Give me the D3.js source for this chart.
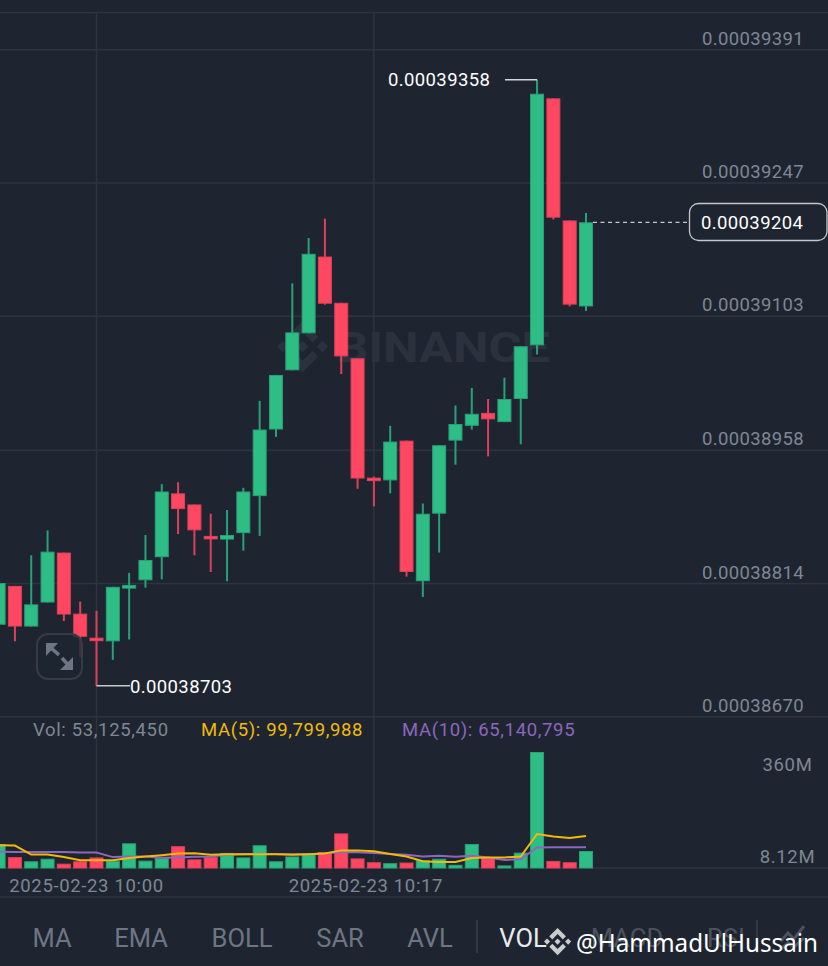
<!DOCTYPE html>
<html><head><meta charset="utf-8">
<script src="https://cdn.jsdelivr.net/npm/d3@7"></script>
<style>html,body{margin:0;padding:0;background:#1e2530;overflow:hidden}svg{display:block;font-family:Roboto,sans-serif}</style>
</head><body><svg id="c" width="828" height="966"></svg>
<script>
// Prices in units of 1e-8. Index 0 = 10:00, one candle per minute.
const candleIndex = d3.range(-6, 31);
const opens  = [38769,38811,38767,38793,38847,38781,38755,38751,38808,38817,38842,38911,38899,38865,38861,38868,38908,38980,39044,39084,39167,39117,39057,38928,38925,38968,38816,38889,38968,38984,38998,38988,39013,39071,39338,39206,39113];
const highs  = [38814,38811,38844,38871,38847,38794,38784,38810,38825,38866,38921,38923,38899,38889,38893,38917,39011,39039,39138,39187,39208,39117,39057,38929,38984,38968,38900,38963,39006,39025,39013,39036,39070,39358,39338,39206,39214];
const lows   = [38769,38751,38767,38793,38773,38734,38703,38731,38753,38809,38818,38867,38844,38826,38816,38849,38865,38972,39044,39084,39115,39040,38916,38897,38911,38821,38799,38847,38942,38980,38951,38988,38964,39061,39207,39113,39108];
const closes = [38814,38767,38791,38848,38780,38756,38752,38810,38812,38839,38913,38894,38871,38862,38866,38913,38980,39039,39085,39170,39116,39059,38927,38925,38967,38826,38889,38963,38986,38997,38991,39013,39070,39343,39209,39115,39204];
// Volumes in millions
const volumes = [75,34,21,29,13.5,21,33,23,77,23,31,68,27,35,47,33,71,21,36,45,50,108,30,18,15,17,24,29,10,75,31,8,48,362,22,18,53];
const ma5  = [71,70,42,42,34,24,24,24,31,36,40,45,46,41,43,43,43,43,41,43,45,55,55,52,44,36,21,19,19,31,33,33,36,106,98,94,100];
const ma10 = [51,50,50,50,50,48,48,34,36,36,32,33,35,36,41,43,44,44,43,43,46,49,49,47,44,41,36,38,35,38,33,25,27,64,65,65,65];
const priceTicks = [39391,39247,39103,38958,38814,38670];
const volumeTicks = [{v:360,t:"360M",dy:12},{v:8.12,t:"8.12M",dy:-8}];
const timeTicks = [{i:0,t:"2025-02-23 10:00"},{i:17,t:"2025-02-23 10:17"}];
const tabs = ["MA","EMA","BOLL","SAR","AVL","VOL","MACD","RSI"];
const tabX = [52,141,242,340,430,523,627,726];
const legendText = ["Vol: 53,125,450","MA(5): 99,799,988","MA(10): 65,140,795"];
const highLabel = 39358, lowLabel = 38703, lastPrice = 39204;

const BG="#1e2530",GRID="#2d343f",UP="#2ebd85",DOWN="#ff4761",GREY="#7f8794",TAB="#6f7683",YEL="#f0b90b",PUR="#8c67bd";
const LOGO="M9.8 13.4 16 7.2l6.2 6.2 3.6-3.6L16 0 6.2 9.8l3.6 3.6zM0 16l3.6-3.6L7.2 16l-3.6 3.6L0 16zm9.8 2.6L16 24.8l6.2-6.2 3.6 3.6L16 32l-9.8-9.8 3.6-3.6zM24.8 16l3.6-3.6L32 16l-3.6 3.6-3.6-3.6zM19.6 16 16 12.4l-3.6 3.6 3.6 3.6 3.6-3.6z";

const svg=d3.select("#c");
const x=d3.scaleLinear().domain([0,30]).range([96.5,586]);
const y=d3.scaleLinear().domain([38670,39391]).range([716.3,49.3]);
const yv=d3.scaleLinear().domain([0,362]).range([868,752]);
const fmt=d=>(d*1e-8).toFixed(8);
const LS="0.65px", LSP="0.38px";
const txt=(t,px,py,size,fill,anchor,ls)=>svg.append("text").attr("x",px).attr("y",py).attr("font-size",size).attr("fill",fill).attr("text-anchor",anchor||"start").attr("dominant-baseline","central").style("letter-spacing",ls||LS).text(t);

// frame / grid
[12.5,868,897].forEach(v=>svg.append("line").attr("x1",0).attr("x2",828).attr("y1",v).attr("y2",v).attr("stroke",GRID).attr("stroke-width",1.5));
timeTicks.forEach(d=>svg.append("line").attr("x1",x(d.i)).attr("x2",x(d.i)).attr("y1",12).attr("y2",868).attr("stroke",GRID).attr("stroke-width",1.5));

// watermark
svg.append("path").attr("d",LOGO).attr("fill","#2b323d").attr("transform","translate(277,321) scale(1.6)");
svg.append("text").attr("x",336).attr("y",362).attr("font-size",42).attr("font-weight",700).attr("fill","#2b323d").attr("textLength",214).attr("lengthAdjust","spacingAndGlyphs").text("BINANCE");

// price axis
const ax=svg.append("g").attr("transform","translate(828,0)").call(d3.axisLeft(y).tickValues(priceTicks).tickSize(828).tickFormat(fmt));
ax.select(".domain").remove();
ax.selectAll("line").attr("stroke",GRID).attr("stroke-width",1.5);
ax.selectAll("text").attr("font-size",18.5).attr("font-family","Roboto").attr("fill",GREY).attr("dy",0).attr("x",-75).attr("y",-11).attr("text-anchor","middle").attr("dominant-baseline","central").style("letter-spacing",LSP);

// candles
const idx=d3.range(candleIndex.length);
const cg=svg.append("g");
const col=i=>closes[i]>=opens[i]?UP:DOWN;
const edge=i=>closes[i]>=opens[i]?"#29a077":"#dc4159";
cg.selectAll("line").data(idx).join("line")
 .attr("x1",i=>x(candleIndex[i])).attr("x2",i=>x(candleIndex[i]))
 .attr("y1",i=>y(highs[i])).attr("y2",i=>y(lows[i]))
 .attr("stroke",edge).attr("stroke-width",2);
cg.selectAll("rect").data(idx).join("rect")
 .attr("x",i=>x(candleIndex[i])-6.5).attr("width",13)
 .attr("y",i=>y(Math.max(opens[i],closes[i]))+.5)
 .attr("height",i=>Math.max(2.5,Math.abs(y(opens[i])-y(closes[i]))-1))
 .attr("fill",col).attr("stroke",edge).attr("stroke-width",1);

// volume
svg.append("g").selectAll("rect").data(idx).join("rect")
 .attr("x",i=>x(candleIndex[i])-6.5).attr("width",13)
 .attr("y",i=>yv(volumes[i])+.5).attr("height",i=>yv(0)-yv(volumes[i])-.5).attr("fill",col).attr("stroke",edge).attr("stroke-width",1);
const ln=d3.line().x((d,i)=>x(candleIndex[i])).y(d=>yv(d));
svg.append("path").attr("d",ln(ma10)).attr("fill","none").attr("stroke",PUR).attr("stroke-width",2);
svg.append("path").attr("d",ln(ma5)).attr("fill","none").attr("stroke",YEL).attr("stroke-width",2);
volumeTicks.forEach(d=>txt(d.t,787.5,yv(d.v)+d.dy,18.5,GREY,"middle"));

// legend
txt(legendText[0],33,730,18.5,GREY);
txt(legendText[1],201,730,18.5,YEL);
txt(legendText[2],402,730,18.5,PUR);

// time labels
timeTicks.forEach((d,k)=>txt(d.t,x(d.i)+(k?-8:-10),885.5,18.5,GREY,"middle"));

// high / low annotations
svg.append("line").attr("x1",505).attr("x2",x(27)).attr("y1",y(highLabel)).attr("y2",y(highLabel)).attr("stroke","#d5d8dc").attr("stroke-width",1.5);
txt(fmt(highLabel),388,80,18.5,"#fff","start",LSP);
svg.append("line").attr("x1",x(0)).attr("x2",130).attr("y1",y(lowLabel)).attr("y2",y(lowLabel)).attr("stroke","#c5c8cd").attr("stroke-width",1.5);
txt(fmt(lowLabel),130,686.5,18.5,"#fff","start",LSP);

// last price
svg.append("line").attr("x1",593).attr("x2",687).attr("y1",y(lastPrice)).attr("y2",y(lastPrice)).attr("stroke","#c5c8cd").attr("stroke-width",1.3).attr("stroke-dasharray","4 3.5");
svg.append("rect").attr("x",689.5).attr("y",203.5).attr("width",137.5).attr("height",37).attr("rx",9).attr("fill",BG).attr("stroke","#c5c8cd").attr("stroke-width",1.3);
txt(fmt(lastPrice),701,223,18.5,"#fff","start",LSP);

// expand button
svg.append("rect").attr("x",37).attr("y",634).attr("width",45).attr("height",45).attr("rx",11).attr("fill",BG).attr("fill-opacity",.75).attr("stroke","#363c47").attr("stroke-width",2);
svg.append("path").attr("d","M46 643H58L46 656ZM73 670H60L73 657Z").attr("fill",TAB);
svg.append("path").attr("d","M50 647L59 655M62 658L70 667").attr("stroke",TAB).attr("stroke-width",3.5);

// tabs
tabs.forEach((t,i)=>txt(t,tabX[i],938,25.5,t==="VOL"?"#e8eaed":(i>5?"#4b525e":TAB),"middle","0px"));
[477,757].forEach(v=>svg.append("line").attr("x1",v).attr("x2",v).attr("y1",920).attr("y2",953).attr("stroke","#3a414c").attr("stroke-width",1.5));
svg.append("path").attr("d","M781 941L788 933L794 939L804 926M781 949L788 943L794 947L804 938").attr("fill","none").attr("stroke","#4b525e").attr("stroke-width",3);

// corner watermark
svg.append("path").attr("d",LOGO).attr("fill","#c9cbcf").attr("transform","translate(544,928) scale(.85)");
svg.append("text").attr("x",576).attr("y",942).attr("font-family","Noto Sans").attr("font-size",25).attr("fill","#fff").attr("dominant-baseline","central").attr("textLength",242).attr("lengthAdjust","spacingAndGlyphs").text("@HammadUlHussain");
</script></body></html>
